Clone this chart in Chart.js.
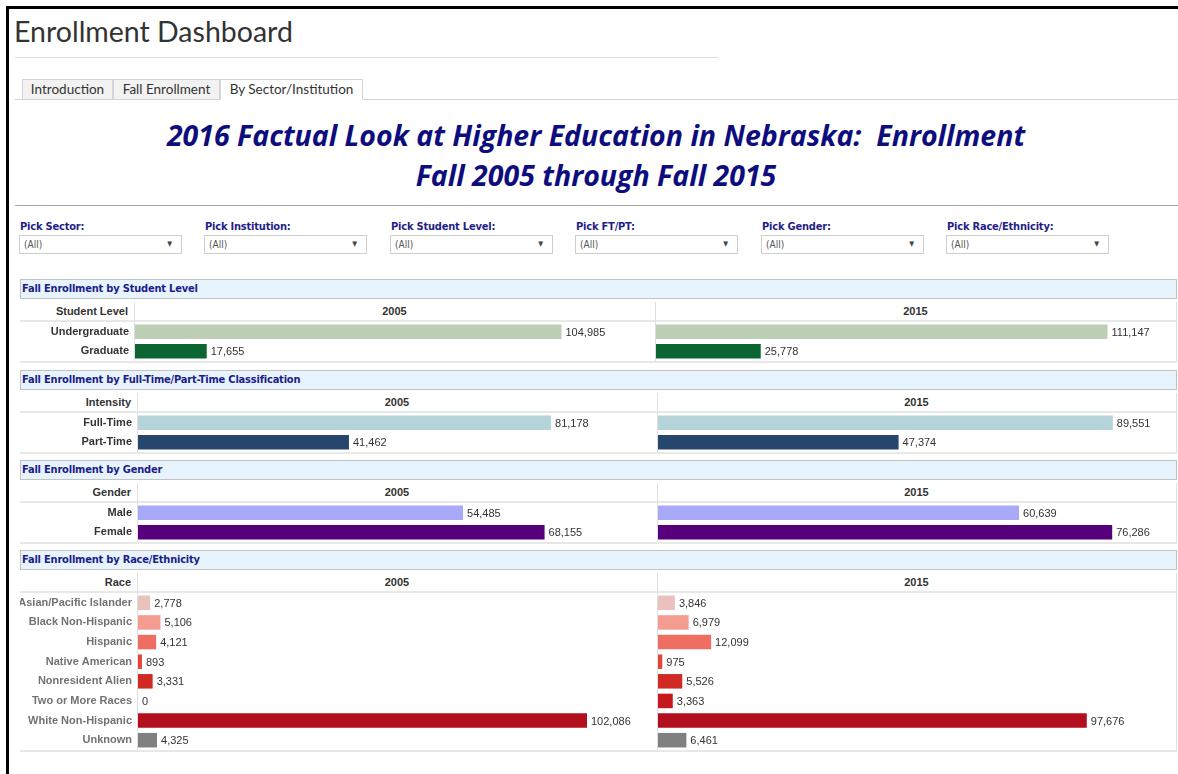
<!DOCTYPE html>
<html>
<head>
<meta charset="utf-8">
<title>Enrollment Dashboard</title>
<script src="https://cdn.jsdelivr.net/npm/chart.js@4.4.1/dist/chart.umd.min.js"></script>
<style>
  html, body { margin: 0; padding: 0; background: #fff; }
  body { width: 1178px; height: 774px; position: relative; overflow: hidden; font-family: "Liberation Sans", Arial, sans-serif; }
  .tab { box-sizing: border-box; height: 21px; border: 1px solid #d4d4d4; background: #f2f2f2; font: 13.5px Lato, "Open Sans", sans-serif; color: #333; text-align: center; line-height: 19px; }
  .tab.on { background: #fff; border-bottom-color: #fff; }
  .flabel { font: bold 11px "DejaVu Sans Condensed", "Liberation Sans", sans-serif; color: #1f1f8a; letter-spacing: -0.2px; }
  .fbox { box-sizing: border-box; height: 19px; border: 1px solid #cfcfcf; background: #fff; font: 10px "DejaVu Sans Condensed", "Liberation Sans", sans-serif; color: #555; line-height: 17px; padding-left: 4px; }
  .fbox span { position: absolute; right: 9px; top: 0; font-size: 7px; color: #444; }
  .shead { box-sizing: border-box; height: 20px; background: #e7f4fd; border: 1px solid #c2c2c2; font: bold 11px "DejaVu Sans Condensed", "Liberation Sans", sans-serif; color: #1c1c8a; line-height: 18px; padding-left: 1px; letter-spacing: -0.2px; }
  .colhead { font: bold 11px "Liberation Sans", Arial, sans-serif; color: #333; line-height: 19px; height: 19px; }
</style>
</head>
<body>
<script>
// ---- data ----
const tabLabels = ['Introduction', 'Fall Enrollment', 'By Sector/Institution'];
const filterLabels = ['Pick Sector:', 'Pick Institution:', 'Pick Student Level:', 'Pick FT/PT:', 'Pick Gender:', 'Pick Race/Ethnicity:'];
const filterValue = '(All)';
const years = ['2005', '2015'];

const levelCats = ['Undergraduate', 'Graduate'];
const level2005 = [104985, 17655];
const level2015 = [111147, 25778];

const intensityCats = ['Full-Time', 'Part-Time'];
const intensity2005 = [81178, 41462];
const intensity2015 = [89551, 47374];

const genderCats = ['Male', 'Female'];
const gender2005 = [54485, 68155];
const gender2015 = [60639, 76286];

const raceCats = ['Asian/Pacific Islander', 'Black Non-Hispanic', 'Hispanic', 'Native American',
  'Nonresident Alien', 'Two or More Races', 'White Non-Hispanic', 'Unknown'];
const race2005 = [2778, 5106, 4121, 893, 3331, 0, 102086, 4325];
const race2015 = [3846, 6979, 12099, 975, 5526, 3363, 97676, 6461];

// ---- colours ----
const levelColors = ['#bccfb4', '#0b6530'];
const intensityColors = ['#b4d4da', '#26466d'];
const genderColors = ['#a9a9f9', '#56007b'];
const raceColors = ['#ebc1bd', '#f59c90', '#ef6e62', '#e2453a', '#d12a24', '#c5171d', '#b20e1e', '#808080'];

Chart.defaults.font.family = '"Liberation Sans", Arial, sans-serif';
Chart.defaults.font.size = 11;

function box(css, text, cls) {
  const d = document.createElement('div');
  d.style.cssText = 'position:absolute;' + css;
  if (cls) d.className = cls;
  if (text != null) d.textContent = text;
  document.body.appendChild(d);
  return d;
}

// frame + page header
box('left:6px;top:6px;right:0;bottom:0;border-left:3px solid #000;border-top:3px solid #000;');
box('left:14px;top:14px;font:28.5px Lato, "Open Sans", sans-serif;color:#333;white-space:nowrap;', 'Enrollment Dashboard');
box('left:15px;top:57px;width:703px;height:1px;background:#dcdcdc;');
box('left:15px;top:99px;right:0;height:1px;background:#d4d4d4;');
const tabX = [22, 113, 220];
const tabW = [91, 107, 143];
tabLabels.forEach((t, i) => {
  box(`left:${tabX[i]}px;top:79px;width:${tabW[i]}px;`, t, i === 2 ? 'tab on' : 'tab');
});

box('left:0;top:116px;width:1192px;text-align:center;font:italic bold 28.5px "Open Sans", "Noto Sans", sans-serif;color:#0d0d7e;line-height:39.5px;white-space:pre;',
  '2016 Factual Look at Higher Education in Nebraska:  Enrollment\nFall 2005 through Fall 2015');
box('left:15px;top:205px;right:0;height:1px;background:#a6a6a6;');

filterLabels.forEach((t, i) => {
  const x = Math.round(20 + i * 185.4);
  box(`left:${x}px;top:220px;white-space:nowrap;`, t, 'flabel');
  const f = box(`left:${x - 1}px;top:235px;width:163px;`, filterValue, 'fbox');
  const a = document.createElement('span');
  a.textContent = '\u25BC';
  f.appendChild(a);
});

// value labels at bar ends
const valueLabels = {
  id: 'valueLabels',
  afterDatasetsDraw(chart) {
    const { ctx } = chart;
    const values = chart.data.datasets[0].data;
    ctx.save();
    ctx.font = '11px "Liberation Sans", Arial, sans-serif';
    ctx.fillStyle = '#333';
    ctx.textBaseline = 'middle';
    chart.getDatasetMeta(0).data.forEach((bar, i) => {
      ctx.fillText(values[i].toLocaleString('en-US'), bar.x + 4, bar.y + 1);
    });
    ctx.restore();
  }
};

const sections = [
  { title: 'Fall Enrollment by Student Level', dim: 'Student Level', cats: levelCats,
    data: [level2005, level2015], colors: levelColors, top: 279, split: 134, mid: 655, xMax: 128000 },
  { title: 'Fall Enrollment by Full-Time/Part-Time Classification', dim: 'Intensity', cats: intensityCats,
    data: [intensity2005, intensity2015], colors: intensityColors, top: 370, split: 137, mid: 657, xMax: 102000 },
  { title: 'Fall Enrollment by Gender', dim: 'Gender', cats: genderCats,
    data: [gender2005, gender2015], colors: genderColors, top: 460, split: 137, mid: 657, xMax: 87000 },
  { title: 'Fall Enrollment by Race/Ethnicity', dim: 'Race', cats: raceCats,
    data: [race2005, race2015], colors: raceColors, top: 550, split: 137, mid: 657, xMax: 118000, tickColor: '#727272' }
];

const RIGHT = 1176;
const ROW = 19.6;

sections.forEach((s) => {
  const T = s.top;
  const bodyTop = T + 43;
  const bodyH = Math.round(s.cats.length * ROW);
  const bottom = bodyTop + bodyH;

  box(`left:20px;top:${T}px;width:${RIGHT - 19}px;`, s.title, 'shead');
  box(`left:20px;top:${T + 23}px;width:${s.split - 26}px;text-align:right;`, s.dim, 'colhead');
  box(`left:${s.split}px;top:${T + 23}px;width:${s.mid - s.split}px;text-align:center;`, years[0], 'colhead');
  box(`left:${s.mid}px;top:${T + 23}px;width:${RIGHT - s.mid}px;text-align:center;`, years[1], 'colhead');
  box(`left:20px;top:${T + 41}px;width:${RIGHT - 19}px;height:2px;background:#e8e8e8;`);
  box(`left:20px;top:${bottom}px;width:${RIGHT - 19}px;height:2px;background:#e8e8e8;`);
  [s.split, s.mid, RIGHT].forEach((x) => {
    box(`left:${x}px;top:${T + 23}px;width:1px;height:${bottom - T - 23}px;background:#e0e0e0;`);
  });

  years.forEach((year, k) => {
    const left = k === 0 ? 20 : s.mid + 1;
    const right = k === 0 ? s.mid : RIGHT;
    const canvas = document.createElement('canvas');
    canvas.width = right - left;
    canvas.height = bodyH;
    canvas.style.cssText = `position:absolute;left:${left}px;top:${bodyTop}px;`;
    document.body.appendChild(canvas);
    const axisWidth = s.split + 1 - 20;
    const showAxis = k === 0;
    new Chart(canvas, {
      type: 'bar',
      data: {
        labels: s.cats,
        datasets: [{
          data: s.data[k],
          backgroundColor: s.colors,
          borderWidth: 0,
          barPercentage: 0.74,
          categoryPercentage: 1
        }]
      },
      options: {
        indexAxis: 'y',
        responsive: false,
        animation: false,
        events: [],
        layout: { padding: 0 },
        plugins: { legend: { display: false }, tooltip: { enabled: false } },
        scales: {
          x: { display: false, min: 0, max: s.xMax },
          y: {
            display: showAxis,
            grid: { display: false, drawTicks: false },
            border: { display: false },
            ticks: {
              padding: 6,
              color: s.tickColor || '#333',
              font: { weight: 'bold', size: 11 }
            },
            afterFit(scale) {
              if (!showAxis) return;
              scale.width = axisWidth;
              scale.paddingTop = 0;
              scale.paddingBottom = 0;
            }
          }
        }
      },
      plugins: [valueLabels]
    });
  });
});
</script>
</body>
</html>
